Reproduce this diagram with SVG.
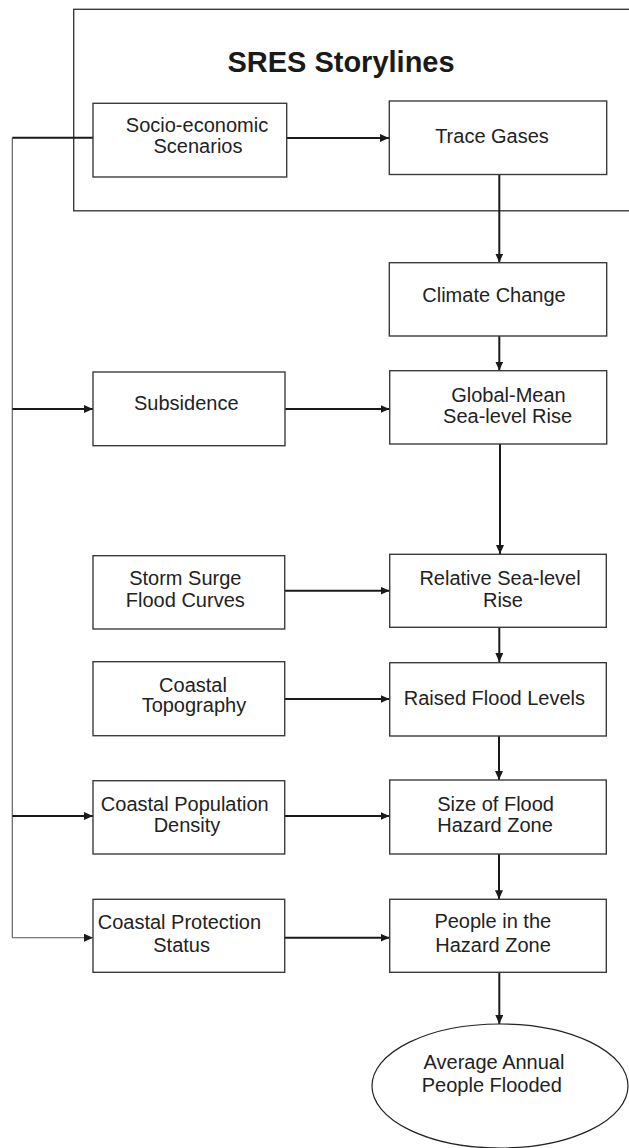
<svg xmlns="http://www.w3.org/2000/svg" width="629" height="1148" viewBox="0 0 629 1148">
<defs>
<marker id="ah" markerUnits="userSpaceOnUse" markerWidth="10" markerHeight="8" refX="9" refY="4" orient="auto">
<path d="M0,0 L9,4 L0,8 z" fill="#1a1a1a"/>
</marker>
<style>
.box{fill:#fff;stroke:#3c3c3c;stroke-width:1.4}
.t{font-family:"Liberation Sans",Arial,sans-serif;font-size:20px;fill:#222;text-anchor:middle}
.title{font-family:"Liberation Sans",Arial,sans-serif;font-size:29px;font-weight:bold;fill:#1a1a1a;text-anchor:middle}
.c{fill:none;stroke:#1a1a1a;stroke-width:2}
.thin{fill:none;stroke:#555;stroke-width:1.1}
</style>
</defs>
<rect width="629" height="1148" fill="#fff"/>
<g id="sres">
<rect x="73.7" y="9.3" width="600" height="201.5" fill="none" stroke="#3c3c3c" stroke-width="1.4"/>
<text class="title" x="341" y="72">SRES Storylines</text>
</g>
<g id="connectors">
<path class="thin" d="M12.3,137.7 V937.7"/>
<path class="c" d="M93,137.7 H12.3"/>
<path class="c" d="M286.7,138 H389" marker-end="url(#ah)"/>
<path class="c" d="M499.3,174.5 V262.5" marker-end="url(#ah)"/>
<path class="c" d="M499.3,336 V370.5" marker-end="url(#ah)"/>
<path class="c" d="M12.3,409 H93" marker-end="url(#ah)"/>
<path class="c" d="M285,409 H389.5" marker-end="url(#ah)"/>
<path class="c" d="M500,444 V554" marker-end="url(#ah)"/>
<path class="c" d="M284.7,590.7 H389.5" marker-end="url(#ah)"/>
<path class="c" d="M499.3,627.5 V662" marker-end="url(#ah)"/>
<path class="c" d="M284.7,699 H389.5" marker-end="url(#ah)"/>
<path class="c" d="M499,736 V780" marker-end="url(#ah)"/>
<path class="c" d="M12.3,816 H93" marker-end="url(#ah)"/>
<path class="c" d="M284.7,816 H389.5" marker-end="url(#ah)"/>
<path class="c" d="M499,854 V899.3" marker-end="url(#ah)"/>
<path class="thin" d="M12.3,937.7 H93" marker-end="url(#ah)"/>
<path class="c" d="M284.7,937.7 H389.5" marker-end="url(#ah)"/>
<path class="c" d="M499.3,972.3 V1024" marker-end="url(#ah)"/>
</g>
<g id="socio">
<rect class="box" x="93" y="103.3" width="193.7" height="73.7"/>
<text class="t" x="197" y="131.7">Socio-economic</text>
<text class="t" x="198" y="153.3">Scenarios</text>
</g>
<g id="trace">
<rect class="box" x="389.3" y="101" width="217.4" height="73.5"/>
<text class="t" x="492" y="142.7">Trace Gases</text>
</g>
<g id="climate">
<rect class="box" x="389.3" y="262.7" width="217.4" height="73.3"/>
<text class="t" x="494" y="301.7">Climate Change</text>
</g>
<g id="subsidence">
<rect class="box" x="93" y="372" width="192" height="73.7"/>
<text class="t" x="186.3" y="410">Subsidence</text>
</g>
<g id="globalmean">
<rect class="box" x="389.7" y="370.7" width="217" height="73.3"/>
<text class="t" x="508.5" y="401.7">Global-Mean</text>
<text class="t" x="507.6" y="423.3">Sea-level Rise</text>
</g>
<g id="storm">
<rect class="box" x="93" y="555.7" width="191.7" height="73.3"/>
<text class="t" x="185.3" y="585">Storm Surge</text>
<text class="t" x="185.3" y="606.7">Flood Curves</text>
</g>
<g id="relative">
<rect class="box" x="389.7" y="554.3" width="216.6" height="73"/>
<text class="t" x="500" y="585">Relative Sea-level</text>
<text class="t" x="503" y="606.7">Rise</text>
</g>
<g id="topography">
<rect class="box" x="93" y="661.7" width="191.7" height="74"/>
<text class="t" x="193" y="692">Coastal</text>
<text class="t" x="193.9" y="712">Topography</text>
</g>
<g id="raised">
<rect class="box" x="389.7" y="662.7" width="216.6" height="73.3"/>
<text class="t" x="494.4" y="705">Raised Flood Levels</text>
</g>
<g id="population">
<rect class="box" x="93" y="780.7" width="191.7" height="73.3"/>
<text class="t" x="184.8" y="810.7">Coastal Population</text>
<text class="t" x="187" y="831.7">Density</text>
</g>
<g id="sizezone">
<rect class="box" x="389.7" y="780" width="216.6" height="74"/>
<text class="t" x="495.6" y="810.7">Size of Flood</text>
<text class="t" x="495" y="832">Hazard Zone</text>
</g>
<g id="protection">
<rect class="box" x="93" y="899.3" width="191.7" height="73"/>
<text class="t" x="179.4" y="929">Coastal Protection</text>
<text class="t" x="181.6" y="951.7">Status</text>
</g>
<g id="people">
<rect class="box" x="389.7" y="899.3" width="216.6" height="73"/>
<text class="t" x="492.8" y="928">People in the</text>
<text class="t" x="493" y="951.7">Hazard Zone</text>
</g>
<g id="average">
<ellipse cx="500" cy="1086" rx="128" ry="62" fill="#fff" stroke="#222" stroke-width="1.2"/>
<text class="t" x="494" y="1069">Average Annual</text>
<text class="t" x="491.8" y="1092.3">People Flooded</text>
</g>
</svg>
